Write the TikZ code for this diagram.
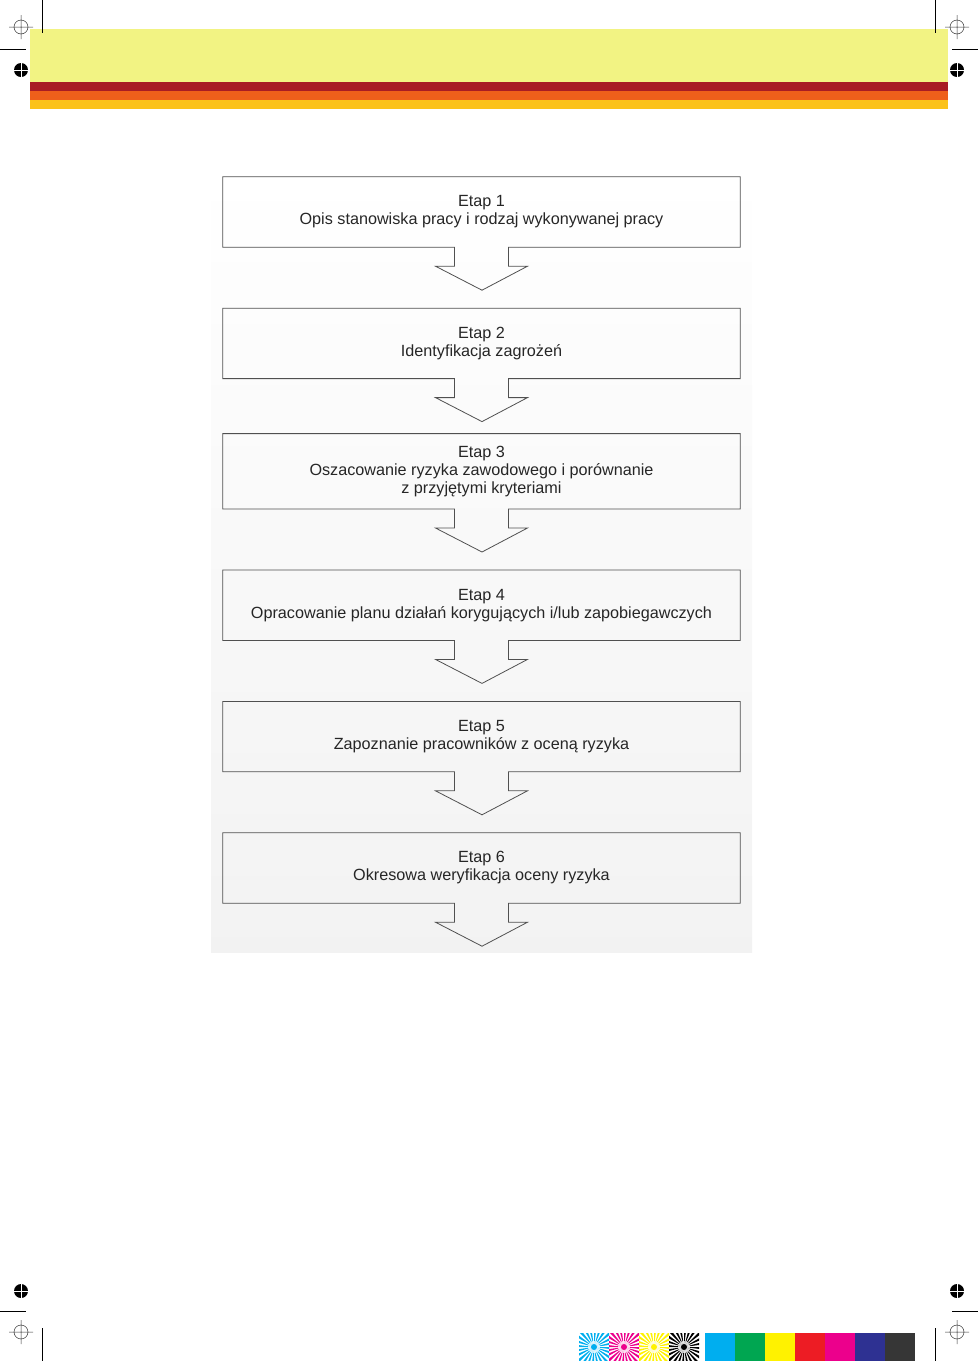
\documentclass[tikz,border=0pt]{standalone}
\usepackage{fontspec}
\setmainfont{Liberation Sans}
\usepackage{xcolor}
\usetikzlibrary{positioning,calc}

\definecolor{bandyellow}{HTML}{F2F383}
\definecolor{bandred}{HTML}{A81C24}
\definecolor{bandorange}{HTML}{EE5F1B}
\definecolor{bandgold}{HTML}{FBC21A}
\definecolor{pcyan}{HTML}{00AEEF}
\definecolor{pgreen}{HTML}{00A651}
\definecolor{pyellow}{HTML}{FFF200}
\definecolor{pred}{HTML}{ED1C24}
\definecolor{pmagenta}{HTML}{EC008C}
\definecolor{pnavy}{HTML}{2E3192}
\definecolor{pblack}{HTML}{363636}
\definecolor{outline}{HTML}{505050}

% outline of one stage box together with its down arrow
\newcommand{\stagearrow}[1]{%
  \draw[ln] ($(#1.south)+(-27,0)$) -- (#1.south west) -- (#1.north west)
    -- (#1.north east) -- (#1.south east) -- ($(#1.south)+(27,0)$)
    -- ++(0,19) -- ++(19,0) -- ($(#1.south)+(0.5,43)$)
    -- ($(#1.south)+(-46,19)$) -- ++(19,0) -- cycle;}

% registration marks
\newcommand{\regcross}[1]{%
  \draw[line width=0.5pt, black!80] #1 circle (7) ++(-12,0) -- ++(24,0) #1 ++(0,-12) -- ++(0,24);}
\newcommand{\regdot}[1]{%
  \fill[black] #1 circle (7);
  \draw[white, line width=0.5pt] #1 ++(-8,0) -- ++(16,0) #1 ++(0,-8) -- ++(0,16);}
\newcommand{\starpatch}[2]{% #1 left x, #2 colour
  \begin{scope}
    \clip (#1,1333) rectangle ++(30,28);
    \foreach \a in {0,15,...,345}
      {\fill[#2] (#1+15,1347) -- ++(\a:30) -- ++(\a+90:3.8) -- cycle;}
    \fill[white, opacity=0.7] (#1+15,1347) circle (6);
    \fill[#2] (#1+15,1347) circle (3);
  \end{scope}}

\begin{document}
\begin{tikzpicture}[x=1pt, y=-1pt, node distance=61pt,
  font=\fontsize{16.2}{18}\selectfont,
  box/.style={minimum width=517pt, minimum height=70pt, inner sep=0pt,
    align=center, text=black!85},
  ln/.style={draw=outline, line width=0.8pt}]
\useasboundingbox (0,0) rectangle (978,1361);

% header bands
\fill[bandyellow] (30,29) rectangle (948,82);
\fill[bandred] (30,82) rectangle (948,91);
\fill[bandorange] (30,91) rectangle (948,100);
\fill[bandgold] (30,100) rectangle (948,109);

% crop and registration marks
\draw[line width=0.8pt] (42,0) -- (42,33) (935,0) -- (935,33)
  (0,49) -- (26,49) (952,49) -- (978,49)
  (0,1311) -- (26,1311) (952,1311) -- (978,1311)
  (42,1328) -- (42,1361) (935,1328) -- (935,1361);
\regcross{(21,27)} \regcross{(957,27)}
\regcross{(21,1332)} \regcross{(957,1332)}
\regdot{(21,70)} \regdot{(957,70)}
\regdot{(21,1291)} \regdot{(957,1291)}

% colour control strip
\starpatch{579}{pcyan}
\starpatch{609}{pmagenta}
\starpatch{639}{pyellow}
\starpatch{669}{black}
\foreach \c [count=\i from 0] in {pcyan,pgreen,pyellow,pred,pmagenta,pnavy,pblack}
  {\fill[\c] (705+30*\i,1333) rectangle ++(30,28);}

% background of the scheme
\shade[top color=white, bottom color=black!5] (211,170) rectangle (752,952);

% stages
\node[box] (etap1) at (481.5,212) {Etap 1\\Opis stanowiska pracy i rodzaj wykonywanej pracy};
\node[box, below=61pt of etap1] (etap2) {Etap 2\\Identyfikacja zagrożeń};
\node[box, below=55pt of etap2, minimum height=75pt] (etap3) {Etap 3\\Oszacowanie ryzyka zawodowego i porównanie\\z przyjętymi kryteriami};
\node[box, below=61pt of etap3] (etap4) {Etap 4\\Opracowanie planu działań korygujących i/lub zapobiegawczych};
\node[box, below=61pt of etap4] (etap5) {Etap 5\\Zapoznanie pracowników z oceną ryzyka};
\node[box, below=61pt of etap5] (etap6) {Etap 6\\Okresowa weryfikacja oceny ryzyka};

\foreach \n in {etap1,etap2,etap3,etap4,etap5,etap6}
  {\stagearrow{\n}}
\end{tikzpicture}
\end{document}
